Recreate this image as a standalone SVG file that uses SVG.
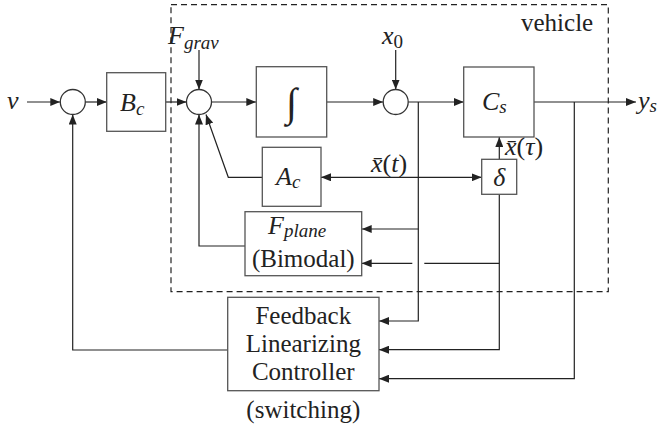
<svg xmlns="http://www.w3.org/2000/svg" width="671" height="432" viewBox="0 0 671 432">
<style>
.box{fill:#fff;stroke:#555;stroke-width:1.3}
.sum{fill:#fff;stroke:#333;stroke-width:1.3}
.ln{fill:none;stroke:#222;stroke-width:1.2}
.ar{fill:none;stroke:#222;stroke-width:1.2;marker-end:url(#ah)}
.m{font-family:"Liberation Serif","DejaVu Serif",serif;font-style:italic;font-size:26px;fill:#222}
.t{font-family:"Liberation Serif","DejaVu Serif",serif;font-size:25px;fill:#222}
.s{font-size:19px}
.u{font-style:normal}
</style>
<defs>
<marker id="ah" viewBox="0 0 10 8" refX="10" refY="4" markerWidth="10" markerHeight="8" markerUnits="userSpaceOnUse" orient="auto-start-reverse">
<path d="M0,0 L10,4 L0,8 Z" fill="#222"/>
</marker>
</defs>
<rect id="vehicle" x="171" y="4.7" width="437.3" height="287" fill="none" stroke="#222" stroke-width="1.2" stroke-dasharray="6,4"/>
<text class="t" x="521" y="31">vehicle</text>

<g id="connectors">
<line class="ar" x1="27" y1="102" x2="60.3" y2="102"/>
<line class="ar" x1="85.3" y1="102" x2="106.7" y2="102"/>
<line class="ar" x1="165.7" y1="102" x2="186.5" y2="102"/>
<line class="ar" x1="199" y1="50" x2="199" y2="89.5"/>
<line class="ar" x1="211.5" y1="102" x2="256.3" y2="102"/>
<line class="ar" x1="326.7" y1="102" x2="383.2" y2="102"/>
<line class="ar" x1="395.7" y1="50" x2="395.7" y2="89.5"/>
<line class="ar" x1="408.2" y1="102" x2="463.7" y2="102"/>
<line class="ar" x1="534" y1="102" x2="636" y2="102"/>
<line class="ar" x1="499.3" y1="159.3" x2="499.3" y2="137"/>
<line class="ln" x1="321" y1="177.3" x2="481.7" y2="177.3" marker-start="url(#ah)" marker-end="url(#ah)"/>
<polyline class="ar" points="262.3,177.3 228.3,177.3 206,114.5"/>
<polyline class="ar" points="245,246 199,246 199,114.5"/>
<polyline class="ar" points="418.3,102 418.3,321 379,321"/>
<line class="ar" x1="418.3" y1="229" x2="361.7" y2="229"/>
<polyline class="ar" points="499.3,194.3 499.3,349.7 379,349.7"/>
<line class="ln" x1="499.3" y1="263.3" x2="424.3" y2="263.3"/>
<line class="ar" x1="412.3" y1="263.3" x2="361.7" y2="263.3"/>
<polyline class="ar" points="574.3,102 574.3,378.7 379,378.7"/>
<polyline class="ar" points="227.7,350 72.7,350 72.7,114.5"/>
</g>

<g id="sum1"><circle class="sum" cx="72.8" cy="102" r="12.5"/></g>
<g id="sum2"><circle class="sum" cx="199" cy="102" r="12.5"/></g>
<g id="sum3"><circle class="sum" cx="395.7" cy="102" r="12.5"/></g>

<g id="Bc"><rect class="box" x="106.7" y="72.7" width="59" height="58.6"/>
<text class="m" x="120" y="111">B<tspan class="s" dy="4">c</tspan></text></g>

<g id="integrator"><rect class="box" x="256.3" y="66.7" width="70.4" height="70.3"/>
<text class="m" x="291.5" y="116" text-anchor="middle" style="font-size:40px;font-style:normal">∫</text></g>

<g id="Cs"><rect class="box" x="463.7" y="67" width="70.3" height="70"/>
<text class="m" x="482" y="110">C<tspan class="s" dy="3">s</tspan></text></g>

<g id="Ac"><rect class="box" x="262.3" y="147.3" width="58.7" height="59"/>
<text class="m" x="276" y="185">A<tspan class="s" dy="3">c</tspan></text></g>

<g id="delta"><rect class="box" x="481.7" y="159.3" width="35" height="35"/>
<text class="m" x="499.3" y="186" text-anchor="middle">δ</text></g>

<g id="Fplane"><rect class="box" x="245" y="211.7" width="116.7" height="64"/>
<text class="m" x="268" y="233.5">F<tspan class="s" dy="3">plane</tspan></text>
<text class="t" x="303.3" y="266.7" text-anchor="middle">(Bimodal)</text></g>

<g id="controller"><rect class="box" x="227.7" y="297.3" width="151.3" height="93.4"/>
<text class="t" x="303.3" y="324" text-anchor="middle">Feedback</text>
<text class="t" x="303.3" y="352" text-anchor="middle">Linearizing</text>
<text class="t" x="303.3" y="380" text-anchor="middle">Controller</text>
<text class="t" x="303.3" y="418" text-anchor="middle">(switching)</text></g>

<g id="labels">
<text class="m" x="7" y="109">v</text>
<text class="m" x="168" y="43.5">F<tspan class="s" dy="5">grav</tspan></text>
<text class="m" x="382" y="43.5">x<tspan class="s u" dy="4">0</tspan></text>
<text class="m" x="638" y="109">y<tspan class="s" dy="3">s</tspan></text>
<text class="m" x="371" y="172">x̄<tspan class="u">(</tspan>t<tspan class="u">)</tspan></text>
<text class="m" x="505" y="155">x̄<tspan class="u">(</tspan>τ<tspan class="u">)</tspan></text>
</g>
</svg>
